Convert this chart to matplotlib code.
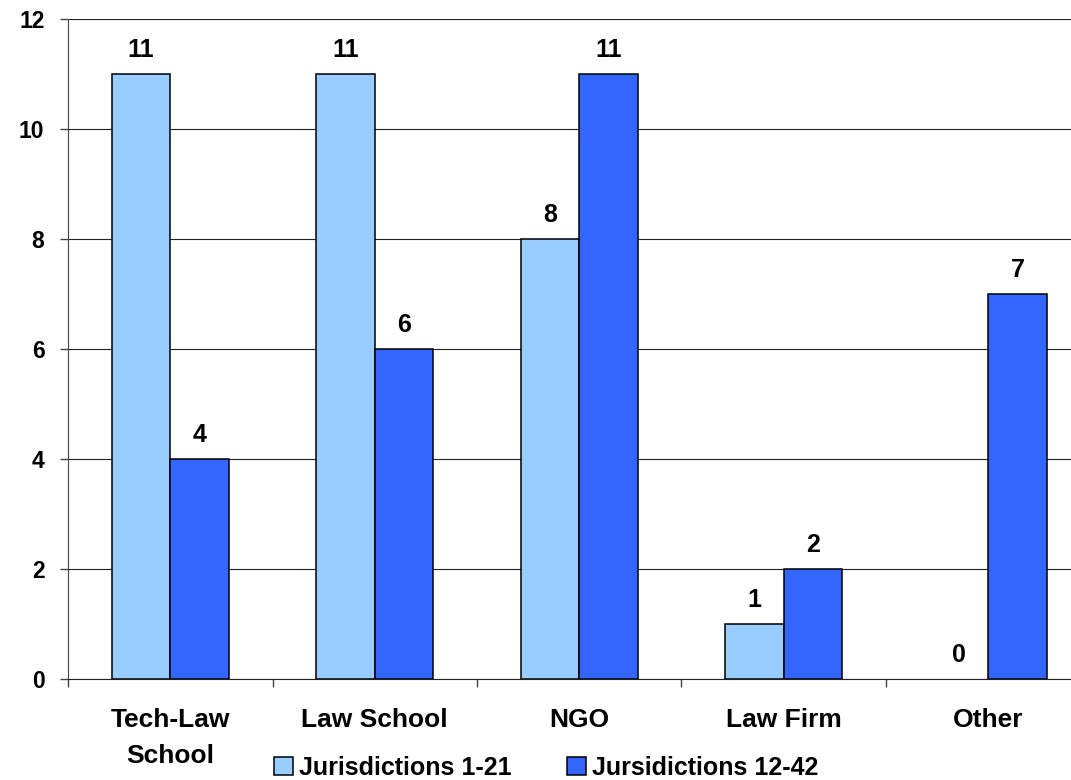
import numpy as np
import matplotlib
matplotlib.use("Agg")
from matplotlib import pyplot as plt

plt.rcParams['font.family'] = ['Liberation Sans', 'DejaVu Sans']
plt.rcParams['font.weight'] = 'bold'

categories = ['Tech-Law\nSchool', 'Law School', 'NGO', 'Law Firm', 'Other']
series_names = ['Jurisdictions 1-21', 'Jursidictions 12-42']
values_1_21 = [11, 11, 8, 1, 0]
values_12_42 = [4, 6, 11, 2, 7]
colors = ['#99CCFF', '#3366FF']

fig = plt.figure(figsize=(10.71, 7.80), dpi=100)
ax = fig.add_axes([0.0635, 0.1291, 0.9547, 0.8462])

x = np.arange(len(categories))
w = 1 / 3.5  # excel gap width 150

for i, (vals, name) in enumerate([(values_1_21, series_names[0]), (values_12_42, series_names[1])]):
    offs = (i - 0.5) * w
    bars = ax.bar(x + offs, vals, width=w, color=colors[i], edgecolor='black',
                  linewidth=[1.1 if v > 0 else 0 for v in vals], label=name, zorder=3)
    for b, v in zip(bars, vals):
        ax.annotate(str(v), (b.get_x() + b.get_width() / 2, v), xytext=(0, 8.5),
                    textcoords='offset points', ha='center', va='bottom',
                    fontsize=18, fontweight='bold')

ax.set_xlim(-0.5, len(categories) - 0.5)
ax.set_ylim(0, 12)
ax.set_yticks(range(0, 13, 2))
ax.yaxis.grid(True, color='#222222', linewidth=0.8, zorder=0)
ax.set_axisbelow(True)

# tick marks at category boundaries, labels at the centers
ax.set_xticks(np.arange(-0.5, len(categories) + 0.5, 1))
ax.set_xticklabels([])
ax.set_xticks(x, minor=True)
ax.set_xticklabels(categories, minor=True, fontsize=19, fontweight='bold', linespacing=1.6)
ax.tick_params(axis='x', which='minor', length=0, pad=21)
ax.tick_params(axis='x', which='major', length=6, width=1, color='#444444', direction='out')
ax.tick_params(axis='y', length=6, width=1, color='#444444', direction='out', pad=11, labelsize=16.5)
for lab in ax.get_yticklabels():
    lab.set_fontweight('bold')

for s in ['top', 'right']:
    ax.spines[s].set_visible(False)
ax.spines['left'].set_color('#444444')
ax.spines['bottom'].set_color('#222222')

fig.legend(loc='center', bbox_to_anchor=(0.510, 0.016), ncol=2, frameon=False,
           handlelength=0.75, handleheight=0.75, handletextpad=0.25,
           columnspacing=2.2, borderpad=0, prop={'weight': 'bold', 'size': 18})

fig.savefig('out.png', dpi=100)
